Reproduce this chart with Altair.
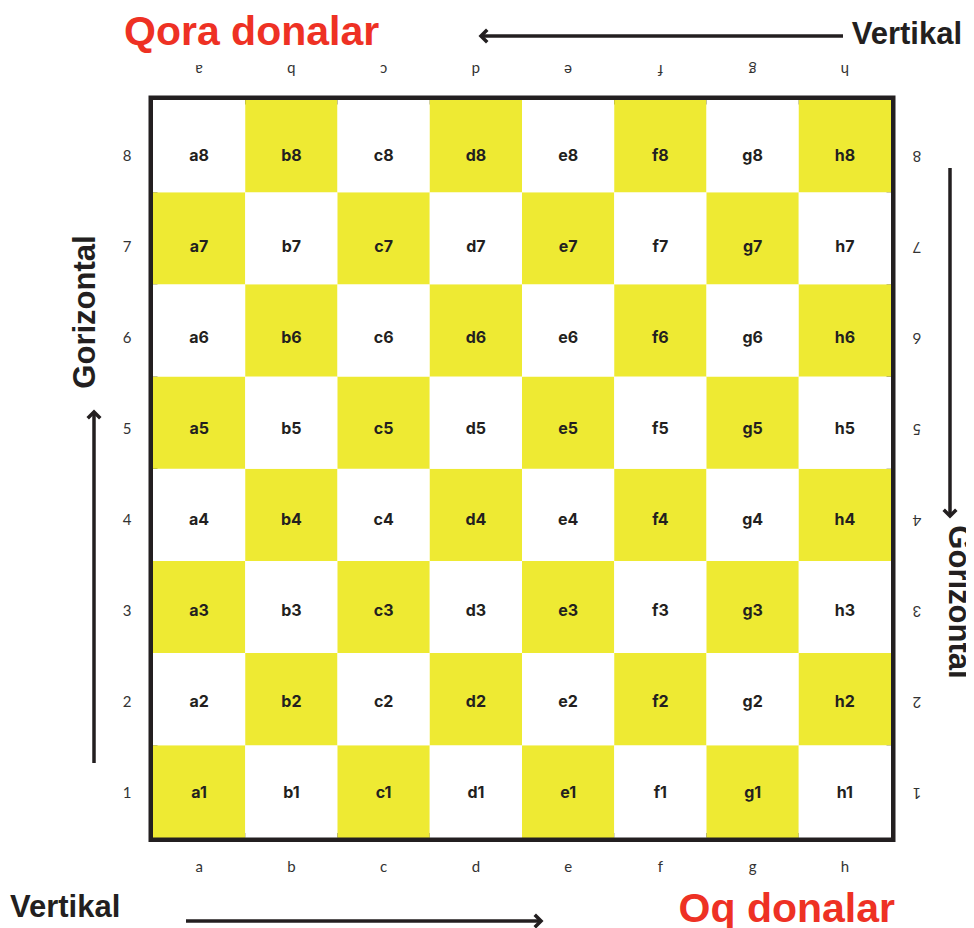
import altair as alt
import pandas as pd

# ---- data ----
FILES = ["a", "b", "c", "d", "e", "f", "g", "h"]
RANKS = [1, 2, 3, 4, 5, 6, 7, 8]
TITLE_BLACK = "Qora donalar"
TITLE_WHITE = "Oq donalar"
VERTIKAL = "Vertikal"
GORIZONTAL = "Gorizontal"

# ---- styles ----
YELLOW = "#EEEA33"
WHITE = "#FFFFFF"
INK = "#231F20"
RED = "#EE3124"
W, H = 958, 920

cells = pd.DataFrame(
    [{"file": f, "fi": i, "rank": r, "label": f"{f}{r}"}
     for i, f in enumerate(FILES) for r in RANKS]
)
files_df = pd.DataFrame({"file": FILES, "fi": list(range(len(FILES)))})
ranks_df = pd.DataFrame({"rank": RANKS})
one = pd.DataFrame({"k": [0]})

# board units -> pixels (one square = ~92.2 px)
UX, UY = 92.25, 92.19
X0, Y0px = 145, 829.5
XS = alt.Scale(domain=[-X0 / UX, (W - X0) / UX], nice=False, zero=False)
YS = alt.Scale(domain=[-(H - Y0px) / UY, Y0px / UY], nice=False, zero=False)


def X(f):
    return alt.X(f, type="quantitative", scale=XS, axis=None)


def Y(f):
    return alt.Y(f, type="quantitative", scale=YS, axis=None)


border = alt.Chart(one).mark_rect(
    fillOpacity=0, stroke=INK, strokeWidth=9
).transform_calculate(x0="0", x1="8", y0="0", y1="8").encode(
    x=X("x0"), x2="x1", y=Y("y0"), y2="y1"
)

squares = alt.Chart(cells).transform_calculate(
    x0="datum.fi", x1="datum.fi + 1", y0="datum.rank - 1", y1="datum.rank",
    shade="(datum.fi + datum.rank) % 2 == 1 ? 'y' : 'w'"
).mark_rect().encode(
    x=X("x0"), x2="x1", y=Y("y0"), y2="y1",
    color=alt.Color("shade:N", scale=alt.Scale(domain=["y", "w"], range=[YELLOW, WHITE]), legend=None),
)

cell_text = alt.Chart(cells).transform_calculate(
    cx="datum.fi + 0.5", ly="0.488 + (datum.rank - 1) * 0.987"
).mark_text(font="Inter", fontWeight=700, fontSize=16, color=INK, baseline="middle").encode(
    x=X("cx"), y=Y("ly"), text="label:N"
)

SMALL = dict(font="Lato", fontWeight="normal", fontSize=15, color="#333333", baseline="middle")

bottom_letters = alt.Chart(files_df).transform_calculate(
    cx="datum.fi + 0.5", ly="-0.32"
).mark_text(**SMALL).encode(x=X("cx"), y=Y("ly"), text="file:N")
top_letters = alt.Chart(files_df).transform_calculate(
    cx="datum.fi + 0.5", ly="8.325"
).mark_text(angle=180, **SMALL).encode(x=X("cx"), y=Y("ly"), text="file:N")
left_nums = alt.Chart(ranks_df).transform_calculate(
    cx="-0.282", ly="0.488 + (datum.rank - 1) * 0.987"
).mark_text(**SMALL).encode(x=X("cx"), y=Y("ly"), text="rank:N")
right_nums = alt.Chart(ranks_df).transform_calculate(
    cx="8.282", ly="0.488 + (datum.rank - 1) * 0.987"
).mark_text(angle=180, **SMALL).encode(x=X("cx"), y=Y("ly"), text="rank:N")


def label(text, x, y, size, color, align="left", baseline="alphabetic", angle=0):
    kw = dict(text=text, font="Liberation Sans", fontWeight="bold", fontSize=size,
              color=color, align=align, baseline=baseline)
    if angle:
        kw["angle"] = angle
    return alt.Chart(one).mark_text(**kw).encode(x=alt.value(x), y=alt.value(y))


def hline(x1, x2, y):
    return alt.Chart(one).mark_rule(color=INK, strokeWidth=3.5).encode(
        x=alt.value(x1), x2=alt.value(x2), y=alt.value(y))


def vline(x, y1, y2):
    return alt.Chart(one).mark_rule(color=INK, strokeWidth=3.5).encode(
        x=alt.value(x), y=alt.value(y1), y2=alt.value(y2))


def head(x, y, path):
    return alt.Chart(one).mark_point(
        shape=path, filled=False, stroke=INK, strokeWidth=3.5, size=110, opacity=1,
        strokeJoin="miter"
    ).encode(x=alt.value(x), y=alt.value(y))


LEFT = "M 1 -1.2 L -0.2 0 L 1 1.2"
RIGHT = "M -1 -1.2 L 0.2 0 L -1 1.2"
UP = "M -1.2 1 L 0 -0.2 L 1.2 1"
DOWN = "M -1.2 -1 L 0 0.2 L 1.2 -1"

annotations = [
    label(TITLE_BLACK, 116, 37, 41, RED),
    label(VERTIKAL, 954, 36, 31, INK, align="right"),
    label(VERTIKAL, 2, 909, 31, INK),
    label(TITLE_WHITE, 887, 914, 41, RED, align="right"),
    label(GORIZONTAL, 78, 304, 31, INK, align="center", baseline="middle", angle=270),
    label(GORIZONTAL, 950, 594, 31, INK, align="center", baseline="middle", angle=90),
    hline(474, 835, 28), head(474, 28, LEFT),
    hline(178, 532, 913), head(532, 913, RIGHT),
    vline(86, 405, 755), head(86, 405, UP),
    vline(942, 160, 507), head(942, 507, DOWN),
]

chart = alt.layer(
    border, squares, cell_text, bottom_letters, top_letters, left_nums, right_nums,
    *annotations
).properties(
    width=W, height=H, padding=0, autosize=alt.AutoSizeParams(type="none"),
    background="white"
).configure_view(stroke=None)

chart.save("out.html", embed_options={"renderer": "svg", "actions": False})
